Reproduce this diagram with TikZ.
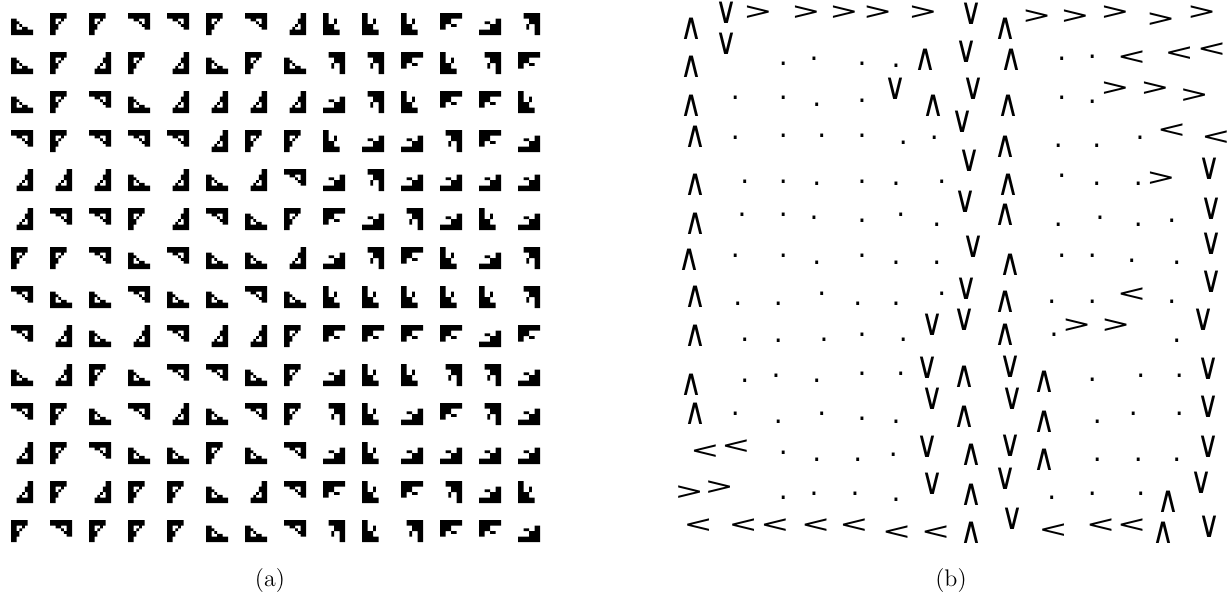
\documentclass[tikz,border=0pt]{standalone}
\usepackage{graphicx}
\usepackage{fontspec}
\newfontfamily\symfont{DejaVu Sans}
\usepackage{tikz}
\newcommand{\symUp}{\scalebox{1.5}[1.85]{∧}}
\newcommand{\symDn}{\scalebox{1.5}[1.85]{∨}}
\newcommand{\symLt}{\scalebox{1.45}[0.98]{\fontsize{12}{12}\selectfont<}}
\newcommand{\symGt}{\scalebox{1.45}[0.98]{\fontsize{12}{12}\selectfont>}}
\newcommand{\symDot}{\scalebox{1.4}{.}}

\begin{document}
\begin{tikzpicture}[
  x=0.5pt, y=-0.5pt,
  sym/.style={font=\symfont\fontsize{10}{10}\selectfont, inner sep=0pt},
  lbl/.style={font=\fontsize{12}{14}\selectfont, inner sep=0pt},
  % 8x8 pixel glyph, 0-3 = triangle, 4-7 = corner arrow
  pics/glyph/.style={code={
    \ifnum#1<4\relax
      \fill (-11,-5.5) rectangle (-5.5,11) (-11,5.5) rectangle (11,11)
            (-5.5,-2.75) rectangle (-2.75,0) (-2.75,0) rectangle (0,2.75)
            (0,2.75) rectangle (5.5,5.5);
    \else
      \fill (-11,-11) rectangle (-5.5,11) (-11,5.5) rectangle (5.5,11)
            (-5.5,0) rectangle (0,5.5) (0,-5.5) rectangle (2.75,0);
    \fi}},
]
\useasboundingbox (0,0) rectangle (1230,607);

% (a): glyph grid
\foreach \row [count=\i from 0] in {
  {0,1,1,2,2,1,2,3,4,4,4,5,7,6},
  {0,1,3,1,3,0,1,0,6,6,5,4,6,5},
  {0,1,2,0,3,3,3,3,7,6,4,5,5,4},
  {2,1,2,2,2,3,1,1,4,7,7,6,5,7},
  {3,3,3,0,3,0,3,2,7,6,7,7,7,7},
  {3,2,2,1,3,2,0,1,5,7,6,7,4,7},
  {1,1,2,0,2,0,0,3,7,6,5,4,7,6},
  {2,0,0,2,0,0,2,0,4,4,4,4,4,6},
  {2,3,0,3,2,3,3,1,5,5,5,5,7,5},
  {0,3,1,0,2,2,0,1,7,4,4,6,6,7},
  {2,1,0,2,3,0,2,1,6,4,7,5,6,7},
  {3,1,2,0,0,1,0,2,7,4,7,7,7,7},
  {3,1,3,1,1,0,3,2,5,4,5,6,7,4},
  {1,2,1,1,1,0,0,2,6,4,6,5,5,7}}{
  \foreach \g [count=\j from 0] in \row {
    \pgfmathtruncatemacro{\rot}{-90*mod(\g,4)}
    \pic[rotate=\rot] at ({22+39*\j},{24+39*\i}) {glyph=\g};
  }
}

% (b): action grid
\foreach \xx/\yy/\sy [count=\k] in {
  691.7/28.3/\symUp, 726.7/13/\symDn, 758/12.7/\symGt, 806/12.7/\symGt, 844/12.7/\symGt,
  877.7/12.7/\symGt, 923/12.7/\symGt, 971.7/14/\symDn, 1005/28.3/\symUp, 1036.7/16.7/\symGt,
  1075/16.7/\symGt, 1115/12.7/\symGt, 1160.7/20/\symGt, 1201.7/12.7/\symGt,
  691.7/66.7/\symUp, 726.7/43.3/\symDn, 783.3/63.3/\symDot, 814/58.3/\symDot, 862/63.3/\symDot,
  896/65.7/\symDot, 925.7/60/\symUp, 966/51.7/\symDn, 1011.7/60/\symUp, 1061.7/58.3/\symDot,
  1092.3/56.7/\symDot, 1131.7/57.3/\symLt, 1179.3/53.3/\symLt, 1211.7/49.3/\symLt,
  691.7/106/\symUp, 735.3/97.3/\symDot, 783.3/97.3/\symDot, 816.7/104.3/\symDot, 862/101/\symDot,
  895/88.3/\symDn, 933.3/106/\symUp, 973.3/88.3/\symDn, 1008.3/106/\symUp, 1061.7/97.3/\symDot,
  1092.3/101.7/\symDot, 1115/88.3/\symGt, 1155/88.3/\symGt, 1194.3/96/\symGt,
  695.7/136.7/\symUp, 735.3/137.3/\symDot, 783.3/135.7/\symDot, 821.7/135.7/\symDot, 862/135.7/\symDot,
  903.3/142.7/\symDot, 934.3/137.3/\symDot, 962.7/121.7/\symDn, 1005/146.7/\symUp, 1058.3/145.7/\symDot,
  1096.7/145.7/\symDot, 1140/137.3/\symDot, 1171.7/130.7/\symLt, 1216/137.3/\symLt,
  695.7/185/\symUp, 744.7/181.7/\symDot, 783.3/181.7/\symDot, 816.7/183.3/\symDot, 862/181.7/\symDot,
  896/183.3/\symDot, 941.7/181.7/\symDot, 969.3/160.7/\symDn, 1008.3/185/\symUp, 1061.7/176/\symDot,
  1096.7/183.3/\symDot, 1138.3/183.3/\symDot, 1161/178.3/\symGt, 1209.3/168.3/\symDn,
  695.7/224/\symUp, 742/215/\symDot, 783.3/215/\symDot, 814/217.7/\symDot, 862/221/\symDot,
  900.7/214.3/\symDot, 936.7/224.3/\symDot, 965/201.7/\symDn, 1005/215/\symUp, 1058.3/224.3/\symDot,
  1100/217.3/\symDot, 1138.3/224.3/\symDot, 1171.7/221/\symDot, 1211.7/208.3/\symDn,
  689.3/260/\symUp, 735.3/256/\symDot, 783.3/256/\symDot, 816.7/262.3/\symDot, 862/256/\symDot,
  896/262.3/\symDot, 936.7/262.3/\symDot, 973.3/246.7/\symDn, 1010/265/\symUp, 1061.7/256/\symDot,
  1092.3/256/\symDot, 1131.7/261/\symDot, 1176.7/262.3/\symDot, 1211.7/243.3/\symDn,
  695.7/296.7/\symUp, 737.7/303.3/\symDot, 778.3/303.3/\symDot, 821.7/293.3/\symDot, 857.7/303.3/\symDot,
  896/303.3/\symDot, 941.7/293.3/\symDot, 966.7/288.3/\symDn, 1005/301.7/\symUp, 1051.7/301.7/\symDot,
  1092.3/301.7/\symDot, 1131.7/295/\symLt, 1171.7/301.7/\symDot, 1211.7/281.7/\symDn,
  695.7/336/\symUp, 744.7/339.3/\symDot, 778.3/341/\symDot, 824/339.3/\symDot, 862/334.3/\symDot,
  903.3/339.3/\symDot, 932.7/324.3/\symDn, 964/319.3/\symDn, 1005/335/\symUp, 1054/335/\symDot,
  1076.7/326/\symGt, 1115.7/326/\symGt, 1176.7/341/\symDot, 1203.3/320/\symDn,
  691.7/384.3/\symUp, 744.7/380.7/\symDot, 776/375.7/\symDot, 816.7/380.7/\symDot, 862/373.3/\symDot,
  900.7/373.3/\symDot, 927.7/367.3/\symDn, 964/376.7/\symUp, 1010/366.7/\symDn, 1044/381.7/\symUp,
  1092.3/380/\symDot, 1140.7/375.7/\symDot, 1179.3/375.7/\symDot, 1208.3/368.3/\symDn,
  695.7/413.3/\symUp, 735.3/413.3/\symDot, 778.3/421.7/\symDot, 821.7/413.3/\symDot, 862/418.3/\symDot,
  896/421.7/\symDot, 932.7/398.3/\symDn, 964/416.7/\symUp, 1012.7/398.3/\symDn, 1044/421.7/\symUp,
  1097.3/421.7/\symDot, 1133.3/413.3/\symDot, 1179.3/413.3/\symDot, 1208.3/406.7/\symDn,
  705/451.7/\symLt, 736/446.7/\symLt, 783.3/452.3/\symDot, 816.7/459.3/\symDot, 857.7/459.3/\symDot,
  893.3/454.3/\symDot, 927.7/446.7/\symDn, 971.7/455/\symUp, 1010/446/\symDn, 1044/460/\symUp,
  1097.3/459.3/\symDot, 1138.3/459.3/\symDot, 1176.7/459.3/\symDot, 1208.3/446.7/\symDn,
  689.3/492.3/\symGt, 719.3/487.3/\symGt, 783.3/497.3/\symDot, 814/493.3/\symDot, 855/493.3/\symDot,
  896/500/\symDot, 932.7/483.3/\symDn, 971.7/495/\symUp, 1005/478.3/\symDn, 1051.7/497.3/\symDot,
  1092.3/493.3/\symDot, 1140.7/493.3/\symDot, 1168.3/501.7/\symUp, 1201.7/482.7/\symDn,
  698.3/525.7/\symLt, 743.3/525.7/\symLt, 775/525.7/\symLt, 815.7/525.7/\symLt, 854/525.7/\symLt,
  896.7/532.7/\symLt, 935.7/532.7/\symLt, 971.7/532.7/\symUp, 1012.7/519/\symDn, 1053.3/530.7/\symLt,
  1100.7/526/\symLt, 1131.7/526/\symLt, 1163.3/532.7/\symUp, 1209.3/526.7/\symDn}{
  \node[sym] (s\k) at (\xx,\yy) {\sy};
}

% captions
\node[lbl] (capa) at (270,580) {(a)};
\node[lbl] (capb) at (951,580) {(b)};

\end{tikzpicture}
\end{document}
